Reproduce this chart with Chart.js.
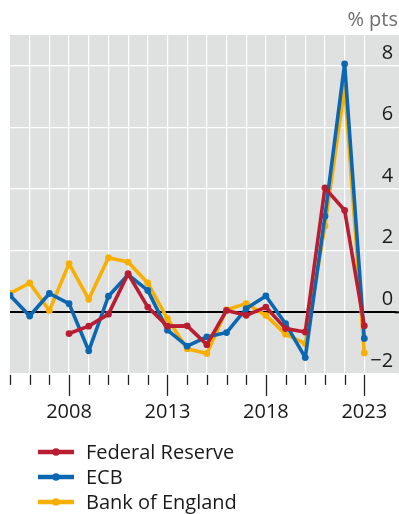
<!DOCTYPE html>
<html>
<head>
<meta charset="utf-8">
<script src="https://cdn.jsdelivr.net/npm/chart.js@4.4.1/dist/chart.umd.min.js"></script>
<style>
  html, body { margin: 0; padding: 0; background: #ffffff; }
  #wrap { width: 399px; height: 514px; position: relative; }
  canvas { display: block; }
</style>
</head>
<body>
<div id="wrap"><canvas id="chart" width="399" height="514"></canvas></div>
<script>
// Years on the horizontal axis
const years = [2005, 2006, 2007, 2008, 2009, 2010, 2011, 2012, 2013, 2014,
               2015, 2016, 2017, 2018, 2019, 2020, 2021, 2022, 2023];

// Change in percentage points, one value per year (null = no data)
const fedReserve = [null, null, null, -0.69, -0.45, -0.06, 1.25, 0.17, -0.45, -0.44,
                    -1.05, 0.06, -0.10, 0.17, -0.53, -0.64, 4.04, 3.31, -0.44];
const ecb = [0.55, -0.12, 0.61, 0.28, -1.25, 0.52, 1.22, 0.71, -0.58, -1.10,
             -0.80, -0.66, 0.12, 0.53, -0.37, -1.47, 3.12, 8.06, -0.85];
const bankOfEngland = [0.61, 0.95, 0.06, 1.58, 0.42, 1.77, 1.63, 0.95, -0.21, -1.18,
                       -1.34, 0.08, 0.28, -0.10, -0.71, -1.02, 2.80, 7.30, -1.32];

const seriesNames = ['Federal Reserve', 'ECB', 'Bank of England'];
const seriesColors = ['#b81d32', '#0b67b2', '#f7b000'];

// Axis labels
const xTickLabels = ['2008', '2013', '2018', '2023'];
const yTickValues = [-2, 0, 2, 4, 6, 8];
const unitLabel = '% pts';

const FONT = "'Open Sans', 'Noto Sans', sans-serif";
const FONT_SIZE = 20;
const TEXT = '#1a1a1a';

function toPoints(values) {
  return years.map((yr, i) => ({ x: yr, y: values[i] }));
}

const seriesValues = [fedReserve, ecb, bankOfEngland];

const gridColor = v => (v === 0 ? '#000000' : '#ffffff');
const gridWidth = v => (v === 0 ? 2 : 1.2);

// Gray panel behind the plot, running out to the right edge under the y labels;
// the horizontal grid is carried across that last strip as well
const panelPlugin = {
  id: 'panel',
  beforeDraw(chart) {
    const { ctx, chartArea } = chart;
    ctx.save();
    ctx.fillStyle = '#dfe0e0';
    ctx.fillRect(chartArea.left, chartArea.top, chart.width - chartArea.left, chartArea.bottom - chartArea.top);
    ctx.restore();
  },
  beforeDatasetsDraw(chart) {
    const { ctx, chartArea } = chart;
    const ys = chart.scales.y;
    ctx.save();
    yTickValues.forEach(v => {
      const py = ys.getPixelForValue(v);
      ctx.strokeStyle = gridColor(v);
      ctx.lineWidth = gridWidth(v);
      ctx.beginPath();
      ctx.moveTo(chartArea.right - 1, py);
      ctx.lineTo(chart.width, py);
      ctx.stroke();
    });
    ctx.restore();
  }
};

// Year tick marks below the panel (long marks under labelled years), unit label, legend
const decorPlugin = {
  id: 'decor',
  afterDraw(chart) {
    const { ctx, chartArea } = chart;
    const xs = chart.scales.x;
    ctx.save();
    ctx.strokeStyle = '#222222';
    ctx.lineWidth = 1.3;
    years.forEach(yr => {
      const px = Math.round(xs.getPixelForValue(yr)) + 0.5;
      const long = xTickLabels.includes(String(yr));
      ctx.beginPath();
      ctx.moveTo(px, chartArea.bottom + 1);
      ctx.lineTo(px, chartArea.bottom + (long ? 22 : 11));
      ctx.stroke();
    });

    // unit label above the value axis
    ctx.font = `${FONT_SIZE}px ${FONT}`;
    ctx.fillStyle = '#6e6e6e';
    ctx.textAlign = 'right';
    ctx.textBaseline = 'middle';
    ctx.fillText(unitLabel, chart.width - 1, 20);

    // legend: one row per series, line with a dot, then the name
    const rowY = [452, 477, 502];
    chart.data.datasets.forEach((ds, i) => {
      const y = rowY[i];
      ctx.strokeStyle = ds.borderColor;
      ctx.lineWidth = 4.5;
      ctx.lineCap = 'butt';
      ctx.beginPath();
      ctx.moveTo(38, y);
      ctx.lineTo(74, y);
      ctx.stroke();
      ctx.fillStyle = ds.borderColor;
      ctx.beginPath();
      ctx.arc(56, y, 3.8, 0, Math.PI * 2);
      ctx.fill();
      ctx.fillStyle = TEXT;
      ctx.textAlign = 'left';
      ctx.textBaseline = 'middle';
      ctx.font = `${FONT_SIZE}px ${FONT}`;
      ctx.fillText(ds.label, 86, y + 1);
    });
    ctx.restore();
  }
};

new Chart(document.getElementById('chart'), {
  type: 'line',
  data: {
    datasets: seriesNames.map((name, i) => ({
      label: name,
      data: toPoints(seriesValues[i]),
      borderColor: seriesColors[i],
      backgroundColor: seriesColors[i],
      borderWidth: 3.6,
      borderJoinStyle: 'round',
      pointRadius: 3.4,
      pointHoverRadius: 3.4,
      pointBorderWidth: 0,
      tension: 0,
      spanGaps: false
    }))
  },
  options: {
    responsive: false,
    animation: false,
    devicePixelRatio: 1,
    layout: { padding: { top: 35, left: 10, right: 0, bottom: 90.1 } },
    plugins: {
      legend: { display: false },
      tooltip: { enabled: false },
      title: { display: false }
    },
    scales: {
      x: {
        type: 'linear',
        min: 2005,
        max: 2024.59,
        afterBuildTicks(scale) {
          scale.ticks = years.map(v => ({ value: v }));
        },
        grid: {
          color: ctx => (ctx.tick && ctx.tick.value === years[0]) ? 'rgba(0,0,0,0)' : '#ffffff',
          lineWidth: 1.2,
          drawTicks: true,
          tickLength: 26,
          tickColor: 'rgba(0,0,0,0)'
        },
        border: { display: false },
        ticks: {
          autoSkip: false,
          maxRotation: 0,
          padding: 0,
          color: TEXT,
          font: { family: FONT, size: FONT_SIZE, lineHeight: 1.2 },
          callback: v => (xTickLabels.includes(String(v)) ? String(v) : '')
        }
      },
      y: {
        type: 'linear',
        position: 'right',
        min: -2,
        max: 9,
        afterBuildTicks(scale) {
          scale.ticks = yTickValues.map(v => ({ value: v }));
        },
        grid: {
          color: ctx => gridColor(ctx.tick ? ctx.tick.value : null),
          lineWidth: ctx => gridWidth(ctx.tick ? ctx.tick.value : null),
          drawTicks: false
        },
        border: { display: false },
        ticks: {
          mirror: true,
          padding: -2.4,
          labelOffset: -13,
          color: TEXT,
          font: { family: FONT, size: FONT_SIZE },
          callback: v => (v < 0 ? '\u2212' + Math.abs(v) : String(v))
        }
      }
    }
  },
  plugins: [panelPlugin, decorPlugin]
});
</script>
</body>
</html>
